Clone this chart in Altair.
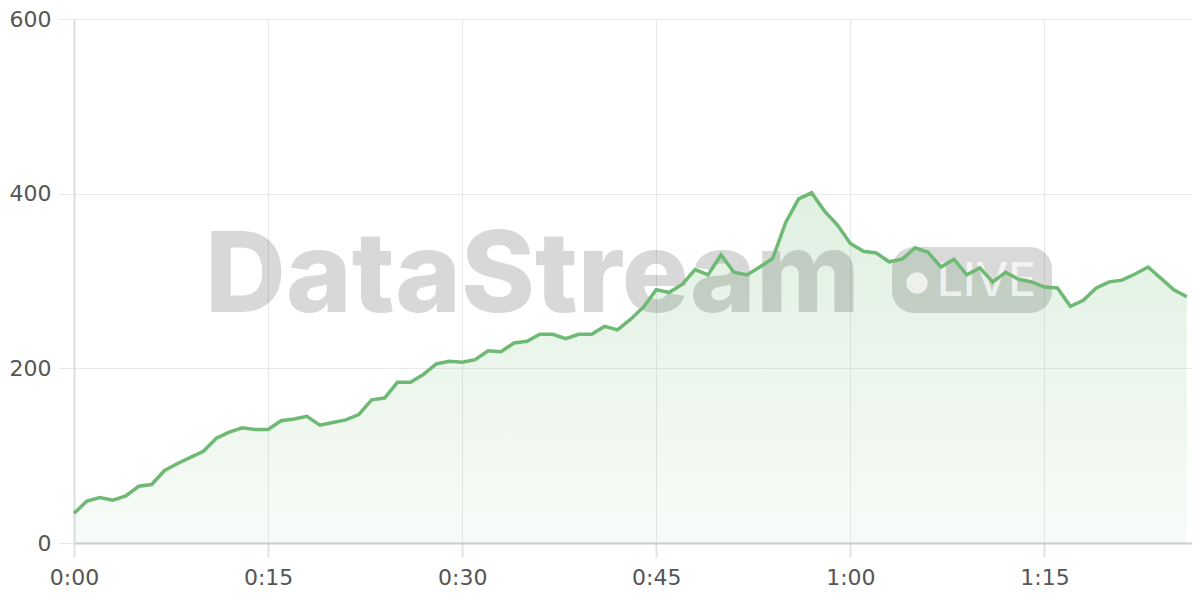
import altair as alt
import pandas as pd

minutes = list(range(87))
values = [34, 48, 52, 49, 54, 65, 67, 83, 91, 98,
          105, 120, 127, 132, 130, 130, 140, 142, 145, 135,
          138, 141, 147, 164, 166, 184, 184, 193, 205, 208,
          207, 210, 220, 219, 229, 231, 239, 239, 234, 239,
          239, 248, 244, 256, 270, 290, 287, 296, 313, 307,
          330, 310, 307, 316, 326, 367, 394, 401, 380, 364,
          343, 334, 332, 322, 325, 338, 333, 316, 325, 307,
          315, 299, 310, 302, 299, 293, 292, 271, 278, 292,
          299, 301, 308, 316, 303, 290, 282]
x_ticks = [0, 15, 30, 45, 60, 75]
y_ticks = [0, 200, 400, 600]
brand = "DataStream"
badge = "LIVE"

df = pd.DataFrame({"t": minutes, "v": values})
one = pd.DataFrame({"k": [0]})

GREEN = "#6eb973"
LABEL_FONT = "DejaVu Sans"

x_enc = alt.X(
    "t:Q",
    scale=alt.Scale(domain=[0, 86.4], nice=False, zero=False),
    axis=alt.Axis(
        values=x_ticks,
        labelExpr="floor(datum.value/60) + ':' + (datum.value % 60 < 10 ? '0' : '') + (datum.value % 60)",
        title=None,
        grid=True,
        gridColor="#e8e8e8",
        gridWidth=1,
        domainColor="#cccccc",
        domainWidth=2,
        tickColor="#e3e3e3",
        tickSize=14,
        tickWidth=2,
        labelPadding=10,
        labelFont=LABEL_FONT,
        labelFontSize=22,
        labelColor="#555555",
        labelFlush=False,
    ),
)
y_enc = alt.Y(
    "v:Q",
    scale=alt.Scale(domain=[0, 600], nice=False),
    axis=alt.Axis(
        values=y_ticks,
        title=None,
        grid=True,
        gridColor="#e8e8e8",
        gridWidth=1,
        domainColor="#dddddd",
        domainWidth=2,
        tickColor="#e8e8e8",
        tickSize=15,
        tickWidth=1,
        labelPadding=8,
        labelFont=LABEL_FONT,
        labelFontSize=22,
        labelColor="#555555",
    ),
)

area = alt.Chart(df).mark_area(
    fill=alt.Gradient(
        gradient="linear",
        stops=[
            alt.GradientStop(color="rgba(110,185,115,0.05)", offset=0),
            alt.GradientStop(color="rgba(110,185,115,0.22)", offset=1),
        ],
        x1=1, x2=1, y1=1, y2=0,
    ),
).encode(x=x_enc, y=y_enc)

wm_text = alt.Chart(one).mark_text(
    text=brand,
    font="Inter",
    fontWeight=800,
    fontSize=112,
    color="#000000",
    opacity=0.15,
    align="left",
    baseline="alphabetic",
).encode(x=alt.value(131), y=alt.value(293))

wm_badge = alt.Chart(one).mark_rect(
    color="#000000",
    opacity=0.15,
    cornerRadius=22,
).encode(x=alt.value(818), x2=alt.value(978), y=alt.value(228), y2=alt.value(294))

wm_dot = alt.Chart(one).mark_circle(
    color="#ffffff",
    opacity=0.7,
    size=460,
).encode(x=alt.value(843), y=alt.value(264))

wm_live = alt.Chart(one).mark_text(
    text=badge,
    font="Inter",
    fontWeight=500,
    fontSize=46,
    color="#ffffff",
    opacity=0.7,
    align="left",
    baseline="alphabetic",
).encode(x=alt.value(863), y=alt.value(277))

line = alt.Chart(df).mark_line(
    color=GREEN,
    strokeWidth=3.5,
).encode(x=x_enc, y=y_enc)

chart = alt.layer(area, wm_text, wm_badge, wm_dot, wm_live, line).properties(
    width=1118,
    height=524,
    autosize=alt.AutoSizeParams(type="none"),
    padding={"left": 66, "top": 11, "right": 0, "bottom": 50},
).configure_view(stroke=None).configure(background="#ffffff")

chart.save("out.html", embed_options={"renderer": "svg", "actions": False})
